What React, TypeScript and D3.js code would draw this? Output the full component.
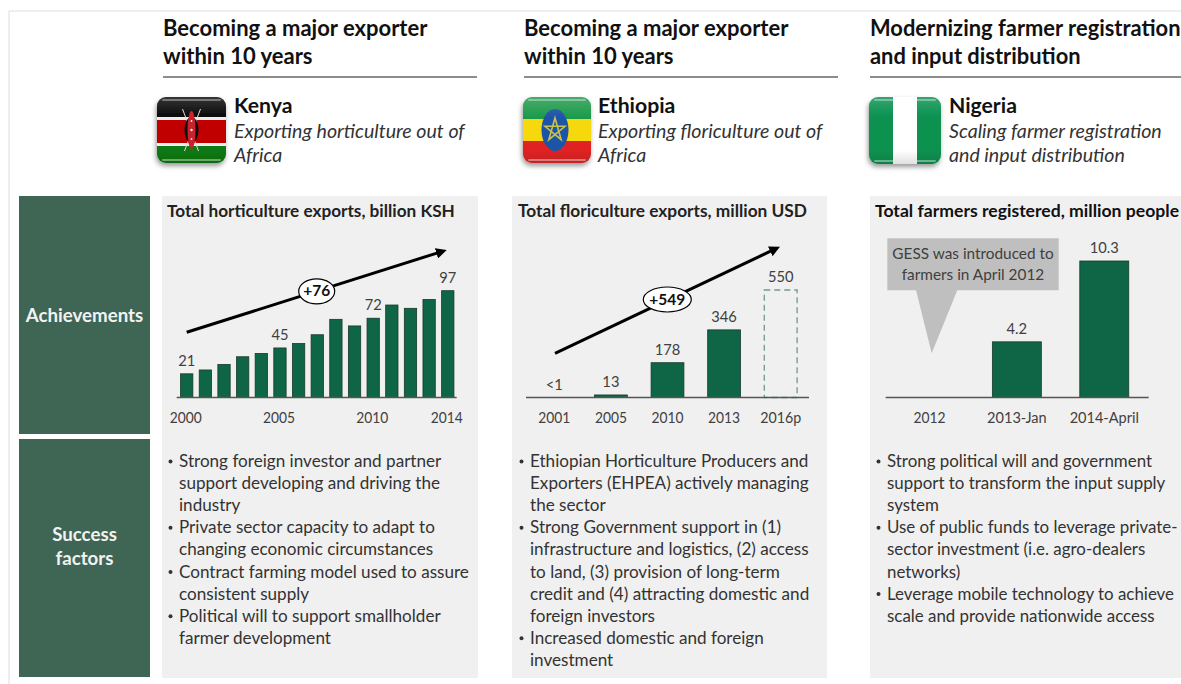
import React from "react";
import * as d3 from "d3";

const kenyaYears = ["2000","2001","2002","2003","2004","2005","2006","2007","2008","2009","2010","2011","2012","2013","2014"];
const kenyaValues = [21.5,25,30,37,40,45,49,57,71,65,72,84,81,89,97];
const kenyaTicks = ["2000","2005","2010","2014"];
const kenyaLabels: Record<string,string> = {"2000":"21","2005":"45","2010":"72","2014":"97"};

const ethiopiaYears = ["2001","2005","2010","2013","2016p"];
const ethiopiaValues = [0,13,178,346,550];
const ethiopiaLabels = ["<1","13","178","346","550"];

const nigeriaPeriods = ["2012","2013-Jan","2014-April"];
const nigeriaValues = [0,4.2,10.3];
const nigeriaLabels = ["","4.2","10.3"];

const kenyaBullets = [
  ["Strong foreign investor and partner","support developing and driving the","industry"],
  ["Private sector capacity to adapt to","changing economic circumstances"],
  ["Contract farming model used to assure","consistent supply"],
  ["Political will to support smallholder","farmer development"],
];
const ethiopiaBullets = [
  ["Ethiopian Horticulture Producers and","Exporters (EHPEA) actively managing","the sector"],
  ["Strong Government support in (1)","infrastructure and logistics, (2) access","to land, (3) provision of long-term","credit and (4) attracting domestic and","foreign investors"],
  ["Increased domestic and foreign","investment"],
];
const nigeriaBullets = [
  ["Strong political will and government","support to transform the input supply","system"],
  ["Use of public funds to leverage private-","sector investment (i.e. agro-dealers","networks)"],
  ["Leverage mobile technology to achieve","scale and provide nationwide access"],
];

const FONT = "Lato, sans-serif";
const BAR = "#0f6647";
const BAR_EDGE = "#17392b";
const INK = "#404040";
const BASE = 397.5;
const NUM_K = 0.92;

// Digits in this face run wide, so purely numeric labels get a tighter horizontal scale.
function tickK(label: string){
  if (/^\d+$/.test(label)) return NUM_K;
  if (label.includes("-")) return 0.97;
  return 0.95;
}

function T({x,y,children,size=16,weight=400,fill=INK,anchor="start",italic=false,k=1}:any){
  return <text transform={`translate(${x},${y}) scale(${k},1)`} fontFamily={FONT} fontSize={size}
    fontWeight={weight} fontStyle={italic?"italic":"normal"} fill={fill} textAnchor={anchor}>{children}</text>;
}

function Bullets({x,groups,size}:{x:number,groups:string[][],size:number}){
  let row = 0;
  return <g>{groups.map((g,i)=>(
    <g key={i}>
      <circle cx={x+7.5} cy={461.5+row*22.1} r={2} fill="#333"/>
      {g.map((line)=>{
        const y = 467+row*22.1; row++;
        return <T key={line} x={x+16} y={y} size={size} fill="#333">{line}</T>;
      })}
    </g>
  ))}</g>;
}

function Header({x,w,lines,name,sub,textX,size=22}:{x:number,w:number,lines:string[],name:string,sub:string[],textX:number,size?:number}){
  return <g>
    <T x={x} y={36} size={size} weight={700} fill="#111">{lines[0]}</T>
    <T x={x} y={64} size={size} weight={700} fill="#111">{lines[1]}</T>
    <line x1={x} x2={x+w} y1={77} y2={77} stroke="#666" strokeWidth={1.5}/>
    <T x={textX} y={113} size={21.2} weight={700} fill="#111">{name}</T>
    <T x={textX} y={138} size={19.6} italic fill="#333">{sub[0]}</T>
    <T x={textX} y={162} size={19.6} italic fill="#333">{sub[1]}</T>
  </g>;
}

function Gloss({x,y,w,h}:{x:number,y:number,w:number,h:number}){
  return <g>
    <rect x={x+5} y={y+2} width={w-10} height={2} rx={1} fill="#fff" opacity={0.35}/>
    <rect x={x+5} y={y+h-4} width={w-10} height={2} rx={1} fill="#fff" opacity={0.45}/>
    <rect x={x} y={y} width={w} height={h} rx={9} fill="url(#sheen)"/>
  </g>;
}

function KenyaFlag(){
  const x=157,y=97,w=69,h=66,cx=x+w/2,cy=y+33;
  return <g filter="url(#flagShadow)">
    <clipPath id="kenyaClip"><rect x={x} y={y} width={w} height={h} rx={9}/></clipPath>
    <g clipPath="url(#kenyaClip)">
      <rect x={x} y={y} width={w} height={20} fill="#0a0a0a"/>
      <rect x={x} y={y+20} width={w} height={3} fill="#eee"/>
      <rect x={x} y={y+23} width={w} height={23} fill="#c00000"/>
      <rect x={x} y={y+46} width={w} height={3} fill="#eee"/>
      <rect x={x} y={y+49} width={w} height={17} fill="#0a7a12"/>
    </g>
    <line x1={cx-9} y1={y+12} x2={cx+7} y2={y+54} stroke="#ddd" strokeWidth={1}/>
    <line x1={cx+9} y1={y+12} x2={cx-7} y2={y+54} stroke="#ddd" strokeWidth={1}/>
    <ellipse cx={cx} cy={cy} rx={7} ry={13} fill="#111"/>
    <ellipse cx={cx} cy={cy} rx={4} ry={19} fill="#c8202a"/>
    <circle cx={cx} cy={cy} r={1.2} fill="#eee"/>
    <circle cx={cx} cy={cy-9} r={0.9} fill="#eee"/>
    <circle cx={cx} cy={cy+9} r={0.9} fill="#eee"/>
    <Gloss x={x} y={y} w={w} h={h}/>
  </g>;
}

function EthiopiaFlag(){
  const x=523,y=97,w=68,h=66,cx=555,cy=130;
  const pts = d3.range(5).map(i=>{
    const a = -Math.PI/2 + i*2*2*Math.PI/5;
    return [cx+10.5*Math.cos(a), cy+12*Math.sin(a)] as [number,number];
  });
  return <g filter="url(#flagShadow)">
    <clipPath id="ethClip"><rect x={x} y={y} width={w} height={h} rx={9}/></clipPath>
    <g clipPath="url(#ethClip)">
      <rect x={x} y={y} width={w} height={22} fill="#1f9a4c"/>
      <rect x={x} y={y+22} width={w} height={22} fill="#f6d90f"/>
      <rect x={x} y={y+44} width={w} height={22} fill="#e02424"/>
    </g>
    <ellipse cx={cx} cy={cy} rx={13.5} ry={21} fill="#1f54a8"/>
    <path d={d3.line()(pts)+"Z"} fill="none" stroke="#c9c24a" strokeWidth={1.6}/>
    <Gloss x={x} y={y} w={w} h={h}/>
  </g>;
}

function NigeriaFlag(){
  const x=869,y=97,w=72,h=67;
  return <g filter="url(#flagShadow)">
    <clipPath id="ngaClip"><rect x={x} y={y} width={w} height={h} rx={9}/></clipPath>
    <g clipPath="url(#ngaClip)">
      <rect x={x} y={y} width={w} height={h} fill="#0b9150"/>
      <rect x={x+24} y={y} width={24} height={h} fill="#fff"/>
    </g>
    <Gloss x={x} y={y} w={w} h={h}/>
  </g>;
}

function Arrow({x1,y1,x2,y2}:{x1:number,y1:number,x2:number,y2:number}){
  return <line x1={x1} y1={y1} x2={x2} y2={y2} stroke="#000" strokeWidth={3} markerEnd="url(#arrowHead)"/>;
}

function Oval({cx,cy,rx,label}:{cx:number,cy:number,rx:number,label:string}){
  return <g>
    <ellipse cx={cx} cy={cy} rx={rx} ry={12.5} fill="#fff" stroke="#000" strokeWidth={1.2}/>
    <T x={cx} y={cy+5} size={15.5} weight={700} fill="#111" anchor="middle">{label}</T>
  </g>;
}

function KenyaChart(){
  const x = d3.scaleBand().domain(kenyaYears).range([177.4,457.1]).paddingInner(0.34).paddingOuter(0.17);
  const y = d3.scaleLinear().domain([0,97]).range([BASE,290.7]);
  return <g>
    <T x={167} y={217} size={17.2} weight={700} fill="#222">Total horticulture exports, billion KSH</T>
    {kenyaYears.map((d,i)=>(
      <rect key={d} x={x(d)} y={y(kenyaValues[i])} width={x.bandwidth()} height={BASE-y(kenyaValues[i])} fill={BAR} stroke={BAR_EDGE} strokeWidth={0.8}/>
    ))}
    <line x1={176.7} x2={456.7} y1={BASE} y2={BASE} stroke="#555" strokeWidth={1.5}/>
    {kenyaTicks.map(d=><T key={d} x={x(d)!+x.bandwidth()/2-1} y={423} size={15} k={tickK(d)} anchor="middle">{d}</T>)}
    {kenyaYears.filter(d=>kenyaLabels[d]).map((d)=>(
      <T key={d} x={x(d)!+x.bandwidth()/2} y={y(kenyaValues[kenyaYears.indexOf(d)])-8} size={16} k={NUM_K} anchor="middle">{kenyaLabels[d]}</T>
    ))}
    <Arrow x1={186.7} y1={332.3} x2={438.5} y2={252.6}/>
    <Oval cx={316.7} cy={291.3} rx={18} label="+76"/>
  </g>;
}

function EthiopiaChart(){
  const x = d3.scaleBand().domain(ethiopiaYears).range([526,809]).paddingInner(0.42).paddingOuter(0.21);
  const y = d3.scaleLinear().domain([0,550]).range([BASE,290]);
  return <g>
    <T x={518} y={217} size={17.3} weight={700} fill="#222">Total floriculture exports, million USD</T>
    {ethiopiaYears.map((d,i)=>{
      const v = ethiopiaValues[i];
      const dashed = d==="2016p";
      return <rect key={d} x={x(d)} y={y(v)} width={x.bandwidth()} height={BASE-y(v)}
        fill={dashed?"none":BAR} stroke={dashed?"#6f9a88":BAR_EDGE} strokeWidth={dashed?1.3:0.8} strokeDasharray={dashed?"6 4":undefined}/>;
    })}
    <line x1={526} x2={809} y1={BASE} y2={BASE} stroke="#555" strokeWidth={1.5}/>
    {ethiopiaYears.map((d,i)=>(
      <g key={d}>
        <T x={x(d)!+x.bandwidth()/2} y={423} size={15} k={tickK(d)} anchor="middle">{d}</T>
        <T x={x(d)!+x.bandwidth()/2} y={y(ethiopiaValues[i])-8} size={16} k={NUM_K} anchor="middle">{ethiopiaLabels[i]}</T>
      </g>
    ))}
    <Arrow x1={555} y1={353.3} x2={772.2} y2={250.4}/>
    <Oval cx={667.3} cy={299.5} rx={24} label="+549"/>
  </g>;
}

function NigeriaChart(){
  const x = d3.scaleBand().domain(nigeriaPeriods).range([885.7,1148]).paddingInner(0.44).paddingOuter(0.22);
  const y = d3.scaleLinear().domain([0,10.3]).range([BASE,261]);
  return <g>
    <T x={875} y={217} size={17.6} weight={700} fill="#111">Total farmers registered, million people</T>
    {nigeriaPeriods.map((d,i)=> nigeriaValues[i]>0 && (
      <rect key={d} x={x(d)} y={y(nigeriaValues[i])} width={x.bandwidth()} height={BASE-y(nigeriaValues[i])} fill={BAR} stroke={BAR_EDGE} strokeWidth={0.8}/>
    ))}
    <line x1={885.7} x2={1148.7} y1={BASE} y2={BASE} stroke="#555" strokeWidth={1.5}/>
    {nigeriaPeriods.map((d,i)=>(
      <g key={d}>
        <T x={x(d)!+x.bandwidth()/2} y={423} size={15} k={tickK(d)} anchor="middle">{d}</T>
        {nigeriaLabels[i] && <T x={x(d)!+x.bandwidth()/2} y={y(nigeriaValues[i])-8} size={16} k={NUM_K} anchor="middle">{nigeriaLabels[i]}</T>}
      </g>
    ))}
    <path d="M887.3,238.3H1058.7V290.3H957.3L931.7,353.3L916,290.3H887.3Z" fill="#bfbfbf"/>
    <T x={973} y={259} size={16} k={0.96} anchor="middle">GESS was introduced to</T>
    <T x={973} y={279.5} size={16} k={0.96} anchor="middle">farmers in April 2012</T>
  </g>;
}

export default function App(){
  return (
    <svg width={1181} height={684} viewBox="0 0 1181 684" style={{position:"absolute",left:0,top:0,background:"#fff"}}>
      <defs>
        <filter id="flagShadow" x="-20%" y="-20%" width="140%" height="140%">
          <feDropShadow dx={-1} dy={3} stdDeviation={2.5} floodColor="#000" floodOpacity={0.4}/>
        </filter>
        <linearGradient id="sheen" x1="0" x2="0" y1="0" y2="1">
          <stop offset="0" stopColor="#fff" stopOpacity={0.18}/>
          <stop offset="0.3" stopColor="#fff" stopOpacity={0}/>
          <stop offset="0.8" stopColor="#000" stopOpacity={0}/>
          <stop offset="1" stopColor="#000" stopOpacity={0.12}/>
        </linearGradient>
        <marker id="arrowHead" viewBox="0 0 10 10" refX="2" refY="5" markerWidth="3.6" markerHeight="3.6" orient="auto">
          <path d="M0,0L10,5L0,10Z" fill="#000"/>
        </marker>
      </defs>

      <path d="M1181,11H9V684" fill="none" stroke="#dcdcdc" strokeWidth={1}/>

      <rect x={162} y={196} width={316} height={482} fill="#f0f0f0"/>
      <rect x={512} y={196} width={315} height={482} fill="#f0f0f0"/>
      <rect x={870} y={196} width={311} height={482} fill="#f0f0f0"/>

      <rect x={19} y={196} width={131} height={238} fill="#3f6555"/>
      <rect x={19} y={439} width={131} height={238} fill="#3f6555"/>
      <T x={84.5} y={322} size={18.7} weight={700} fill="#f2f2f2" anchor="middle">Achievements</T>
      <T x={84.5} y={541} size={18.7} weight={700} fill="#f2f2f2" anchor="middle">Success</T>
      <T x={84.5} y={565} size={18.7} weight={700} fill="#f2f2f2" anchor="middle">factors</T>

      <Header x={163} w={314} lines={["Becoming a major exporter","within 10 years"]} name="Kenya" sub={["Exporting horticulture out of","Africa"]} textX={234}/>
      <Header x={524} w={314} lines={["Becoming a major exporter","within 10 years"]} name="Ethiopia" sub={["Exporting floriculture out of","Africa"]} textX={598}/>
      <Header x={870} w={311} size={21.9} lines={["Modernizing farmer registration","and input distribution"]} name="Nigeria" sub={["Scaling farmer registration","and input distribution"]} textX={949}/>

      <KenyaFlag/>
      <EthiopiaFlag/>
      <NigeriaFlag/>

      <KenyaChart/>
      <EthiopiaChart/>
      <NigeriaChart/>

      <Bullets x={163} size={17.1} groups={kenyaBullets}/>
      <Bullets x={514} size={17.1} groups={ethiopiaBullets}/>
      <Bullets x={871} size={16.9} groups={nigeriaBullets}/>
    </svg>
  );
}
